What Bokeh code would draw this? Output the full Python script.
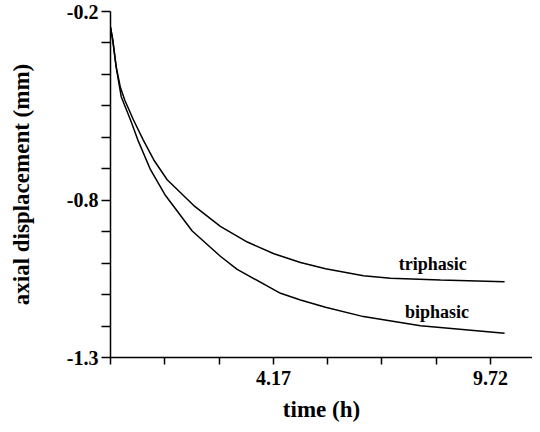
from bokeh.plotting import figure
from bokeh.models import FixedTicker, NumeralTickFormatter, ColumnDataSource
from bokeh.core.properties import value
from bokeh.embed import file_html
from bokeh.resources import INLINE

# time in hours, displacement in mm
t_tri = [0.0, 0.059, 0.146, 0.25, 0.366, 0.588, 0.836, 1.108, 1.45, 2.13, 2.81, 3.50, 4.18, 4.86, 5.5, 6.47, 7.16, 8.44, 10.08]
v_tri = [-0.25, -0.292, -0.377, -0.44, -0.482, -0.545, -0.608, -0.672, -0.735, -0.817, -0.883, -0.933, -0.970, -0.998, -1.018, -1.040, -1.048, -1.054, -1.059]

t_bi = [0.0, 0.059, 0.146, 0.274, 0.512, 0.698, 1.023, 1.407, 2.09, 2.81, 3.24, 4.35, 4.86, 5.5, 6.47, 7.93, 10.08]
v_bi = [-0.25, -0.292, -0.377, -0.471, -0.545, -0.608, -0.703, -0.785, -0.898, -0.978, -1.020, -1.096, -1.117, -1.140, -1.170, -1.199, -1.223]

x_major = [15000 / 3600, 35000 / 3600]
x_minor = [0.0, 5000 / 3600, 10000 / 3600, 20000 / 3600, 25000 / 3600, 30000 / 3600]
y_major = [-0.2, -0.8, -1.3]
y_minor = [-0.3, -0.4, -0.5, -0.6, -0.7, -0.9, -1.0, -1.1, -1.2]

label_text = ["triphasic", "biphasic"]
label_x = [8.24, 8.35]
label_y = [-1.004, -1.156]

FONT = "Liberation Serif"

p = figure(width=532, height=424, x_range=(0, 10.794), y_range=(-1.3, -0.2),
           output_backend="svg", toolbar_location=None,
           min_border_left=110, min_border_right=0, min_border_top=11, min_border_bottom=67)
p.grid.visible = False
p.outline_line_color = None
p.background_fill_color = "white"
p.border_fill_color = "white"

p.line(t_tri, v_tri, line_color="black", line_width=1.5)
p.line(t_bi, v_bi, line_color="black", line_width=1.5)

src = ColumnDataSource(dict(x=label_x, y=label_y, text=label_text))
p.text(x="x", y="y", text="text", source=src, text_font=value(FONT), text_font_style="bold",
       text_font_size="18px", text_align="center", text_baseline="middle", text_color="black")

for ax in (p.xaxis[0], p.yaxis[0]):
    ax.axis_line_color = "black"
    ax.axis_line_width = 1.5
    ax.major_tick_line_color = "black"
    ax.minor_tick_line_color = "black"
    ax.major_tick_line_width = 1.5
    ax.minor_tick_line_width = 1.5
    ax.major_tick_in = 0
    ax.minor_tick_in = 0
    ax.major_label_text_font = FONT
    ax.major_label_text_font_style = "bold"
    ax.major_label_text_font_size = "20px"
    ax.major_label_text_color = "black"
    ax.axis_label_text_font = FONT
    ax.axis_label_text_font_style = "bold"
    ax.axis_label_text_font_size = "23px"
    ax.axis_label_text_color = "black"

p.xaxis.ticker = FixedTicker(ticks=x_major, minor_ticks=x_minor)
p.xaxis.formatter = NumeralTickFormatter(format="0.00")
p.xaxis.major_tick_out = 7
p.xaxis.minor_tick_out = 7
p.xaxis.major_label_standoff = 6
p.xaxis.axis_label = "time (h)"
p.xaxis.axis_label_standoff = 9

p.yaxis.ticker = FixedTicker(ticks=y_major, minor_ticks=y_minor)
p.yaxis.formatter = NumeralTickFormatter(format="0.0")
p.yaxis.major_tick_out = 9
p.yaxis.minor_tick_out = 9
p.yaxis.major_label_standoff = 3
p.yaxis.axis_label = "axial displacement (mm)"
p.yaxis.axis_label_standoff = 30

open("out.html", "w").write(file_html(p, INLINE))
